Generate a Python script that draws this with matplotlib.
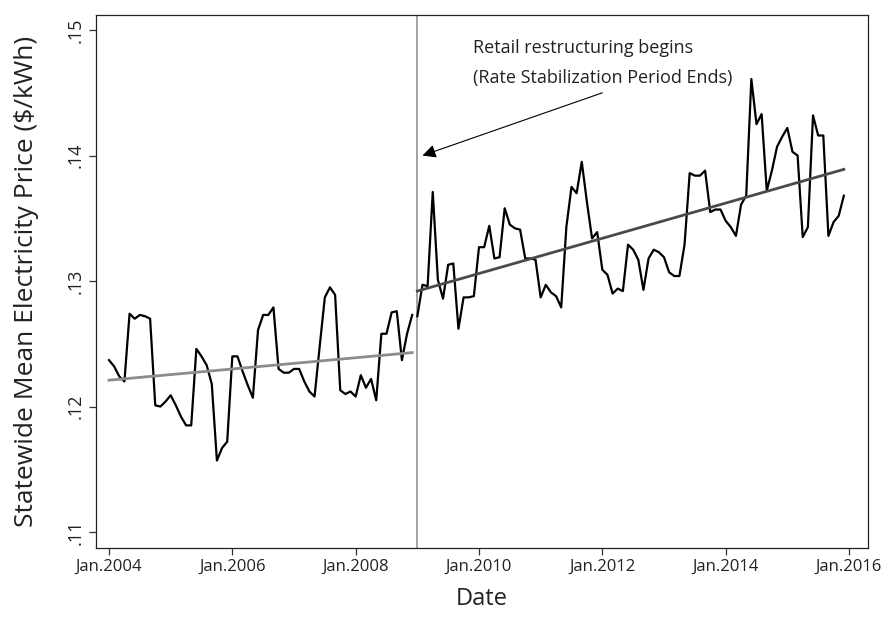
import matplotlib
matplotlib.use("Agg")
import matplotlib.pyplot as plt
import numpy as np

plt.rcParams['font.family'] = ['Open Sans', 'DejaVu Sans']

# Monthly statewide mean electricity price ($/kWh), Jan 2004 - Dec 2015
price = [
    # 2004
    0.1237, 0.1232, 0.1224, 0.1220, 0.1274, 0.1270, 0.1273, 0.1272, 0.1270, 0.1201, 0.1200, 0.1204,
    # 2005
    0.1209, 0.1201, 0.1192, 0.1185, 0.1185, 0.1246, 0.1240, 0.1233, 0.1218, 0.1157, 0.1167, 0.1172,
    # 2006
    0.1240, 0.1240, 0.1228, 0.1217, 0.1207, 0.1261, 0.1273, 0.1273, 0.1279, 0.1230, 0.1227, 0.1227,
    # 2007
    0.1230, 0.1230, 0.1220, 0.1212, 0.1208, 0.1248, 0.1287, 0.1295, 0.1289, 0.1213, 0.1210, 0.1212,
    # 2008
    0.1208, 0.1225, 0.1215, 0.1222, 0.1205, 0.1258, 0.1258, 0.1275, 0.1276, 0.1237, 0.1258, 0.1273,
    # 2009
    0.1272, 0.1297, 0.1296, 0.1371, 0.1301, 0.1286, 0.1313, 0.1314, 0.1262, 0.1287, 0.1287, 0.1288,
    # 2010
    0.1327, 0.1327, 0.1344, 0.1318, 0.1319, 0.1358, 0.1345, 0.1342, 0.1341, 0.1318, 0.1318, 0.1317,
    # 2011
    0.1287, 0.1297, 0.1291, 0.1288, 0.1279, 0.1343, 0.1375, 0.1370, 0.1395, 0.1363, 0.1334, 0.1339,
    # 2012
    0.1309, 0.1305, 0.1290, 0.1294, 0.1292, 0.1329, 0.1325, 0.1317, 0.1293, 0.1318, 0.1325, 0.1323,
    # 2013
    0.1319, 0.1307, 0.1304, 0.1304, 0.1329, 0.1386, 0.1384, 0.1384, 0.1388, 0.1355, 0.1357, 0.1357,
    # 2014
    0.1348, 0.1343, 0.1336, 0.1361, 0.1368, 0.1461, 0.1425, 0.1433, 0.1372, 0.1388, 0.1407, 0.1415,
    # 2015
    0.1422, 0.1403, 0.1400, 0.1335, 0.1343, 0.1432, 0.1416, 0.1416, 0.1336, 0.1347, 0.1352, 0.1368,
]
months = np.arange(len(price))  # 0 = Jan 2004

# Fitted trend lines (start/end values)
pre_trend_months = [0, 59]
pre_trend_values = [0.1221, 0.1243]
post_trend_months = [60, 143]
post_trend_values = [0.1292, 0.1389]

break_month = 60  # Jan 2009
tick_months = [0, 24, 48, 72, 96, 120, 144]
tick_labels = ["Jan.2004", "Jan.2006", "Jan.2008", "Jan.2010", "Jan.2012", "Jan.2014", "Jan.2016"]
ytick_vals = [0.11, 0.12, 0.13, 0.14, 0.15]
ytick_labels = [".11", ".12", ".13", ".14", ".15"]

fig = plt.figure(figsize=(8.91, 6.18), dpi=100)
ax = fig.add_axes([96/891, 1-548/618, (868-96)/891, (548-15)/618])

ax.axvline(break_month, color="#8a8a8a", lw=1.1, zorder=1)
ax.plot(months[:60], price[:60], color="black", lw=1.6, zorder=3)
ax.plot(months[60:], price[60:], color="black", lw=1.6, zorder=3)
ax.plot(pre_trend_months, pre_trend_values, color="#8c8c8c", lw=2.0, zorder=4)
ax.plot(post_trend_months, post_trend_values, color="#4a4a4a", lw=2.0, zorder=4)

ax.set_xlim(-2.53, 147.7)
ax.set_ylim(0.10873, 0.1512)
ax.set_xticks(tick_months)
ax.set_xticklabels(tick_labels, fontsize=12, color="#222222")
ax.set_yticks(ytick_vals)
ax.set_yticklabels(ytick_labels, fontsize=13, rotation=90, va="center", color="#222222")
ax.tick_params(axis="both", direction="out", length=5, width=0.9, color="#333333")
ax.tick_params(axis="x", pad=2.5)
ax.tick_params(axis="y", pad=3)
for s in ax.spines.values():
    s.set_linewidth(0.9)
    s.set_color("#222222")

ax.set_xlabel("Date", fontsize=17, color="#222222", labelpad=9)
ax.set_ylabel("Statewide Mean Electricity Price ($/kWh)", fontsize=19, color="#222222", labelpad=20)

ax.annotate("", xy=(61.0, 0.1400), xytext=(96.0, 0.1450),
            arrowprops=dict(arrowstyle="-|>", color="black", lw=0.8,
                            mutation_scale=20, shrinkA=0, shrinkB=0))
ax.text(70.8, 0.1493, "Retail restructuring begins\n(Rate Stabilization Period Ends)",
        fontsize=13, color="#222222", ha="left", va="top", linespacing=1.85)

fig.savefig("out.png", dpi=100)
